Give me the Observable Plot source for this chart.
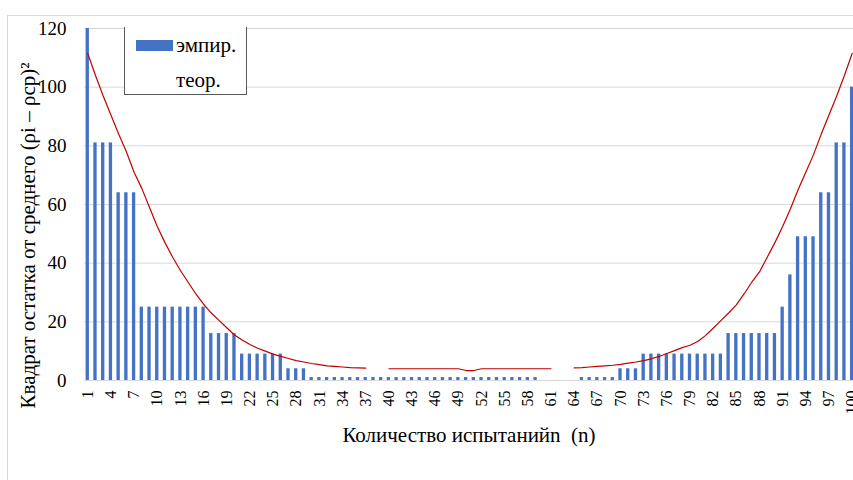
<!DOCTYPE html>
<html><head><meta charset="utf-8">
<script src="https://cdn.jsdelivr.net/npm/d3@7"></script>
<script src="https://cdn.jsdelivr.net/npm/@observablehq/plot@0.6"></script>
<style>
body{margin:0;background:#fff;}
#wrap{position:relative;width:853px;height:480px;overflow:hidden;font-family:'Liberation Serif',serif;color:#000;}
#border{position:absolute;left:7px;top:15px;width:900px;height:520px;border-left:1px solid #d9d9d9;border-top:1px solid #d9d9d9;}
#chart{position:absolute;left:0;top:0;}
#chart svg, #chart svg text{font-family:'Liberation Serif',serif !important;}
#legend{position:absolute;left:124px;top:27px;width:121px;height:67px;border:1.5px solid #595959;border-top:none;background:#fff;}
#legend .sw{position:absolute;left:11px;top:13px;width:37px;height:11px;background:#4472c4;}
#legend .t{position:absolute;left:51px;font-size:21px;line-height:24px;white-space:nowrap;}
</style>
</head><body>
<div id="wrap"><div id="border"></div><div id="chart"></div>
<div id="legend"><div class="sw"></div><div class="t" id="l1" style="top:6px"></div><div class="t" id="l2" style="top:41px"></div></div>
</div>
<script>
const categories = [1,2,3,4,5,6,7,8,9,10,11,12,13,14,15,16,17,18,19,20,21,22,23,24,25,26,27,28,29,30,31,32,33,34,35,36,37,38,39,40,41,42,43,44,45,46,47,48,49,50,51,52,53,54,55,56,57,58,59,60,61,62,63,64,65,66,67,68,69,70,71,72,73,74,75,76,77,78,79,80,81,82,83,84,85,86,87,88,89,90,91,92,93,94,95,96,97,98,99,100];
const empir = [120,81,81,81,64,64,64,25,25,25,25,25,25,25,25,25,16,16,16,16,9,9,9,9,9,9,4,4,4,
  1,1,1,1,1,1,1,1,1,1,1,1,1,1,1,1,1,1,1,1,1,1,1,1,1,1,1,1,1,1,
  0,0,0,0,0,1,1,1,1,1,4,4,4,9,9,9,9,9,9,9,9,9,9,9,16,16,16,16,16,16,16,25,36,49,49,49,64,64,81,81,100];
const teor = [111.5,104,97,90.5,84,78,71,65.5,59,52.5,47,42,37.5,33.5,29.5,26,23,20.5,18,15.5,
  13.8,12.3,11,10,9,8.2,7.5,6.8,6.3,5.8,5.4,5.0,4.8,4.6,4.4,4.3,4.2,null,null,
  4.0,4.0,4.0,4.0,4.0,4.0,4.0,4.0,4.0,4.0,3.4,3.4,
  4.0,4.0,4.0,4.0,4.0,4.0,4.0,4.0,4.0,4.0,null,null,
  4.3,4.4,4.6,4.8,5.0,5.2,5.5,5.9,6.3,6.8,7.4,8.2,9.2,10.2,11.2,12.0,13.3,15.3,17.8,20.4,
  23,25.8,29.5,33.5,37,42,47,52.5,58.5,65,71,77,84,90.5,97,104,111.5];
const xTickLabels = [1,4,7,10,13,16,19,22,25,28,31,34,37,40,43,46,49,52,55,58,61,64,67,70,73,76,79,82,85,88,91,94,97,100];
const yTickLabels = [0,20,40,60,80,100,120];
const seriesNames = ["эмпир.", "теор."];
const xTitle = "Количество испытанийn  (n)";
const yTitle = "Квадрат остатка от среднего (ρi – ρср)²";

document.getElementById("l1").textContent = seriesNames[0];
document.getElementById("l2").textContent = seriesNames[1];

const data = categories.map((n, i) => ({n, e: empir[i], t: teor[i]}));
const serif = "'Liberation Serif', serif";

const chart = Plot.plot({
  width: 853, height: 480,
  marginLeft: 84, marginRight: 0, marginTop: 28, marginBottom: 100,
  style: {fontFamily: serif, background: "transparent", color: "#000", overflow: "hidden"},
  x: {type: "band", domain: categories, range: [83.4, 855.5], paddingInner: 0.57, paddingOuter: 0.285},
  y: {domain: [0, 120], range: [380, 28]},
  marks: [
    Plot.gridY(yTickLabels, {stroke: "#d9d9d9", strokeOpacity: 1}),
    Plot.barY(data, {x: "n", y: "e", fill: "#4472c4"}),
    Plot.line(data, {x: "n", y: "t", stroke: "#c00000", strokeWidth: 1.2}),
    Plot.axisY(yTickLabels, {tickSize: 0, tickPadding: 18, fontSize: 19, label: null}),
    Plot.axisX(xTickLabels, {tickSize: 0, tickRotate: -90, tickPadding: 10, fontSize: 16, label: null}),
    Plot.text([xTitle], {frameAnchor: "bottom", dy: 61, fontSize: 21}),
    Plot.text([yTitle], {frameAnchor: "left", textAnchor: "middle", rotate: -90, dx: -56, dy: 31, fontSize: 21})
  ]
});
document.getElementById("chart").appendChild(chart);
</script>
</body></html>
